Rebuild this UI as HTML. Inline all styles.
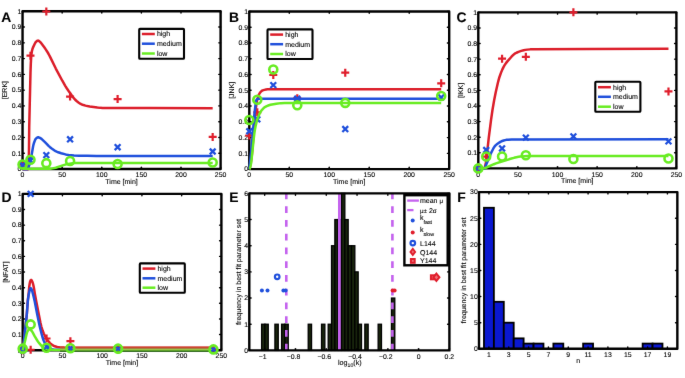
<!DOCTYPE html>
<html lang="en"><head><meta charset="utf-8"><title>Figure</title>
<style>
html,body{margin:0;padding:0;background:#fff;}
body{width:685px;height:378px;overflow:hidden;font-family:"Liberation Sans", sans-serif;}
svg{display:block;}
svg text{stroke:#000;stroke-width:0.1px;text-rendering:geometricPrecision;}
</style></head>
<body>
<svg width="685" height="378" viewBox="0 0 685 378" font-family='"Liberation Sans", sans-serif' fill="#000" stroke="#000" stroke-width="0">
<defs><filter id="soft" x="0" y="0" width="685" height="378" filterUnits="userSpaceOnUse" color-interpolation-filters="sRGB"><feConvolveMatrix order="3" kernelMatrix="0.0036 0.0528 0.0036 0.0528 0.7744 0.0528 0.0036 0.0528 0.0036" divisor="1" edgeMode="duplicate" preserveAlpha="true"/></filter></defs>
<rect width="685" height="378" fill="#fff"/>
<g filter="url(#soft)">
<rect width="685" height="378" fill="#fff" stroke="none"/>
<line x1="22.55" y1="169" x2="22.55" y2="167.2" stroke="#000" stroke-width="1.4" stroke-linecap="round"/>
<line x1="22.55" y1="11.3" x2="22.55" y2="13.1" stroke="#000" stroke-width="1.4" stroke-linecap="round"/>
<text transform="rotate(0.004)" x="22.55" y="177.2" font-size="6.9" text-anchor="middle">0</text>
<line x1="62.16" y1="169" x2="62.16" y2="167.2" stroke="#000" stroke-width="1.4" stroke-linecap="round"/>
<line x1="62.16" y1="11.3" x2="62.16" y2="13.1" stroke="#000" stroke-width="1.4" stroke-linecap="round"/>
<text transform="rotate(0.004)" x="62.16" y="177.2" font-size="6.9" text-anchor="middle">50</text>
<line x1="101.77" y1="169" x2="101.77" y2="167.2" stroke="#000" stroke-width="1.4" stroke-linecap="round"/>
<line x1="101.77" y1="11.3" x2="101.77" y2="13.1" stroke="#000" stroke-width="1.4" stroke-linecap="round"/>
<text transform="rotate(0.004)" x="101.77" y="177.2" font-size="6.9" text-anchor="middle">100</text>
<line x1="141.38" y1="169" x2="141.38" y2="167.2" stroke="#000" stroke-width="1.4" stroke-linecap="round"/>
<line x1="141.38" y1="11.3" x2="141.38" y2="13.1" stroke="#000" stroke-width="1.4" stroke-linecap="round"/>
<text transform="rotate(0.004)" x="141.38" y="177.2" font-size="6.9" text-anchor="middle">150</text>
<line x1="180.99" y1="169" x2="180.99" y2="167.2" stroke="#000" stroke-width="1.4" stroke-linecap="round"/>
<line x1="180.99" y1="11.3" x2="180.99" y2="13.1" stroke="#000" stroke-width="1.4" stroke-linecap="round"/>
<text transform="rotate(0.004)" x="180.99" y="177.2" font-size="6.9" text-anchor="middle">200</text>
<line x1="220.6" y1="169" x2="220.6" y2="167.2" stroke="#000" stroke-width="1.4" stroke-linecap="round"/>
<line x1="220.6" y1="11.3" x2="220.6" y2="13.1" stroke="#000" stroke-width="1.4" stroke-linecap="round"/>
<text transform="rotate(0.004)" x="220.6" y="177.2" font-size="6.9" text-anchor="middle">250</text>
<line x1="22.55" y1="169" x2="24.35" y2="169" stroke="#000" stroke-width="1.4" stroke-linecap="round"/>
<line x1="220.6" y1="169" x2="218.8" y2="169" stroke="#000" stroke-width="1.4" stroke-linecap="round"/>
<text transform="rotate(0.004)" x="21.35" y="171.3" font-size="6.9" text-anchor="end">0</text>
<line x1="22.55" y1="153.23" x2="24.35" y2="153.23" stroke="#000" stroke-width="1.4" stroke-linecap="round"/>
<line x1="220.6" y1="153.23" x2="218.8" y2="153.23" stroke="#000" stroke-width="1.4" stroke-linecap="round"/>
<text transform="rotate(0.004)" x="21.35" y="155.53" font-size="6.9" text-anchor="end">0.1</text>
<line x1="22.55" y1="137.46" x2="24.35" y2="137.46" stroke="#000" stroke-width="1.4" stroke-linecap="round"/>
<line x1="220.6" y1="137.46" x2="218.8" y2="137.46" stroke="#000" stroke-width="1.4" stroke-linecap="round"/>
<text transform="rotate(0.004)" x="21.35" y="139.76" font-size="6.9" text-anchor="end">0.2</text>
<line x1="22.55" y1="121.69" x2="24.35" y2="121.69" stroke="#000" stroke-width="1.4" stroke-linecap="round"/>
<line x1="220.6" y1="121.69" x2="218.8" y2="121.69" stroke="#000" stroke-width="1.4" stroke-linecap="round"/>
<text transform="rotate(0.004)" x="21.35" y="123.99" font-size="6.9" text-anchor="end">0.3</text>
<line x1="22.55" y1="105.92" x2="24.35" y2="105.92" stroke="#000" stroke-width="1.4" stroke-linecap="round"/>
<line x1="220.6" y1="105.92" x2="218.8" y2="105.92" stroke="#000" stroke-width="1.4" stroke-linecap="round"/>
<text transform="rotate(0.004)" x="21.35" y="108.22" font-size="6.9" text-anchor="end">0.4</text>
<line x1="22.55" y1="90.15" x2="24.35" y2="90.15" stroke="#000" stroke-width="1.4" stroke-linecap="round"/>
<line x1="220.6" y1="90.15" x2="218.8" y2="90.15" stroke="#000" stroke-width="1.4" stroke-linecap="round"/>
<text transform="rotate(0.004)" x="21.35" y="92.45" font-size="6.9" text-anchor="end">0.5</text>
<line x1="22.55" y1="74.38" x2="24.35" y2="74.38" stroke="#000" stroke-width="1.4" stroke-linecap="round"/>
<line x1="220.6" y1="74.38" x2="218.8" y2="74.38" stroke="#000" stroke-width="1.4" stroke-linecap="round"/>
<text transform="rotate(0.004)" x="21.35" y="76.68" font-size="6.9" text-anchor="end">0.6</text>
<line x1="22.55" y1="58.61" x2="24.35" y2="58.61" stroke="#000" stroke-width="1.4" stroke-linecap="round"/>
<line x1="220.6" y1="58.61" x2="218.8" y2="58.61" stroke="#000" stroke-width="1.4" stroke-linecap="round"/>
<text transform="rotate(0.004)" x="21.35" y="60.91" font-size="6.9" text-anchor="end">0.7</text>
<line x1="22.55" y1="42.84" x2="24.35" y2="42.84" stroke="#000" stroke-width="1.4" stroke-linecap="round"/>
<line x1="220.6" y1="42.84" x2="218.8" y2="42.84" stroke="#000" stroke-width="1.4" stroke-linecap="round"/>
<text transform="rotate(0.004)" x="21.35" y="45.14" font-size="6.9" text-anchor="end">0.8</text>
<line x1="22.55" y1="27.07" x2="24.35" y2="27.07" stroke="#000" stroke-width="1.4" stroke-linecap="round"/>
<line x1="220.6" y1="27.07" x2="218.8" y2="27.07" stroke="#000" stroke-width="1.4" stroke-linecap="round"/>
<text transform="rotate(0.004)" x="21.35" y="29.37" font-size="6.9" text-anchor="end">0.9</text>
<line x1="22.55" y1="11.3" x2="24.35" y2="11.3" stroke="#000" stroke-width="1.4" stroke-linecap="round"/>
<line x1="220.6" y1="11.3" x2="218.8" y2="11.3" stroke="#000" stroke-width="1.4" stroke-linecap="round"/>
<text transform="rotate(0.004)" x="21.35" y="13.6" font-size="6.9" text-anchor="end">1</text>
<rect x="22.55" y="11.3" width="198.05" height="157.7" fill="none" stroke="#000" stroke-width="2.4" stroke-linejoin="round"/>
<path d="M18.55,164.57H26.55M22.55,160.57V168.57" stroke="#e01e2c" stroke-width="2.2" fill="none"/>
<path d="M26.47,55.68H34.47M30.47,51.68V59.68" stroke="#e01e2c" stroke-width="2.2" fill="none"/>
<path d="M42.32,11.5H50.32M46.32,7.5V15.5" stroke="#e01e2c" stroke-width="2.2" fill="none"/>
<path d="M66.08,96.55H74.08M70.08,92.55V100.55" stroke="#e01e2c" stroke-width="2.2" fill="none"/>
<path d="M113.61,99.08H121.61M117.61,95.08V103.08" stroke="#e01e2c" stroke-width="2.2" fill="none"/>
<path d="M208.68,136.95H216.68M212.68,132.95V140.95" stroke="#e01e2c" stroke-width="2.2" fill="none"/>
<path d="M22.55,169.3 L28.1,169.3 L28.18,169.11 L28.27,168.6 L28.58,164.38 L28.82,158.44 L28.98,149.65 L29.22,127.34 L30.49,72.58 L30.8,63.91 L31.2,56.85 L31.52,53.7 L31.91,51.15 L32.39,49.24 L32.95,47.63 L34.77,43.76 L35.56,42.34 L35.96,41.85 L36.67,41.22 L37.15,40.87 L37.63,40.65 L38.18,40.62 L38.75,40.86 L40.09,41.89 L40.72,42.53 L44.47,47.56 L45.9,49.65 L47.23,51.73 L48.58,54.01 L49.85,56.34 L55.8,68.57 L62.31,80.72 L65.24,85.87 L66.75,88.25 L68.42,90.72 L73.06,97.15 L74.01,98.37 L74.97,99.46 L76.87,101.21 L78.78,102.72 L80.21,103.67 L81.16,104.18 L81.96,104.52 L83.54,105.07 L85.45,105.62 L87.36,106.08 L89.74,106.53 L97.36,107.6 L100.22,107.87 L102.6,107.98 L148.83,108.1 L212.68,108.14" fill="none" stroke="#dc1e2a" stroke-width="2.5" stroke-linejoin="round" stroke-linecap="butt"/>
<path d="M19.65,162.14L25.45,167.94M19.65,167.94L25.45,162.14" stroke="#2050dc" stroke-width="2.3" fill="none"/>
<path d="M27.57,157.72L33.37,163.52M27.57,163.52L33.37,157.72" stroke="#2050dc" stroke-width="2.3" fill="none"/>
<path d="M43.42,152.2L49.22,158M43.42,158L49.22,152.2" stroke="#2050dc" stroke-width="2.3" fill="none"/>
<path d="M67.18,136.42L72.98,142.22M67.18,142.22L72.98,136.42" stroke="#2050dc" stroke-width="2.3" fill="none"/>
<path d="M114.71,144.31L120.51,150.11M114.71,150.11L120.51,144.31" stroke="#2050dc" stroke-width="2.3" fill="none"/>
<path d="M209.78,148.57L215.58,154.37M209.78,154.37L215.58,148.57" stroke="#2050dc" stroke-width="2.3" fill="none"/>
<path d="M22.55,169.3 L27.32,169.3 L27.63,169.08 L27.95,168.53 L29.61,164.28 L30.49,161.36 L30.88,159.39 L33.03,146.7 L33.5,144.55 L34.06,142.73 L34.94,140.32 L35.33,139.51 L35.72,138.86 L36.2,138.37 L36.99,137.73 L37.55,137.42 L38.1,137.27 L38.66,137.31 L39.37,137.57 L40.88,138.44 L41.52,138.89 L44.95,142.07 L46.67,143.78 L48.82,146.05 L49.77,146.95 L51.35,148.19 L54.53,150.45 L55.64,151.17 L56.67,151.68 L58.18,152.31 L61.19,153.31 L65.56,154.4 L67.23,154.71 L68.73,154.92 L74.01,155.38 L79.25,155.66 L87.36,155.84 L96.41,155.95 L212.68,155.97" fill="none" stroke="#2050dc" stroke-width="2.5" stroke-linejoin="round" stroke-linecap="butt"/>
<circle cx="22.55" cy="164.57" r="4.0" stroke="#68ec22" stroke-width="2.6" fill="none"/>
<circle cx="30.47" cy="159.75" r="4.0" stroke="#68ec22" stroke-width="2.6" fill="none"/>
<circle cx="46.32" cy="163.15" r="4.0" stroke="#68ec22" stroke-width="2.6" fill="none"/>
<circle cx="70.08" cy="160.94" r="4.0" stroke="#68ec22" stroke-width="2.6" fill="none"/>
<circle cx="117.61" cy="163.93" r="4.0" stroke="#68ec22" stroke-width="2.6" fill="none"/>
<circle cx="212.68" cy="162.51" r="4.0" stroke="#68ec22" stroke-width="2.6" fill="none"/>
<path d="M22.55,168.83 L48.74,168.83 L50.24,168.74 L52.47,168.38 L55.72,167.69 L64.37,164.9 L66.51,164.32 L69.84,163.66 L72.58,163.24 L74.49,163.07 L212.68,163.07" fill="none" stroke="#68ec22" stroke-width="2.5" stroke-linejoin="round" stroke-linecap="butt"/>
<rect x="139.2" y="28.9" width="44.8" height="29.9" fill="#fff" stroke="#000" stroke-width="2.1" rx="0.8"/>
<line x1="141.9" y1="34" x2="154.8" y2="34" stroke="#dc1e2a" stroke-width="2.5"/>
<text transform="rotate(0.004)" x="156.9" y="36.3" font-size="7">high</text>
<line x1="141.9" y1="43.7" x2="154.8" y2="43.7" stroke="#2050dc" stroke-width="2.5"/>
<text transform="rotate(0.004)" x="156.9" y="46" font-size="7">medium</text>
<line x1="141.9" y1="53.5" x2="154.8" y2="53.5" stroke="#68ec22" stroke-width="2.5"/>
<text transform="rotate(0.004)" x="156.9" y="55.8" font-size="7">low</text>
<text transform="rotate(0.004)" x="121.58" y="183.8" font-size="7.0" text-anchor="middle">Time [min]</text>
<text transform="translate(7.3,90.15) rotate(-89.99)" font-size="7.0" text-anchor="middle">[ERK]</text>
<text transform="rotate(0.004)" x="1.2" y="21.8" font-size="13.9" font-weight="bold">A</text>
<line x1="249.3" y1="169.1" x2="249.3" y2="167.3" stroke="#000" stroke-width="1.4" stroke-linecap="round"/>
<line x1="249.3" y1="11.5" x2="249.3" y2="13.3" stroke="#000" stroke-width="1.4" stroke-linecap="round"/>
<text transform="rotate(0.004)" x="249.3" y="177.3" font-size="6.9" text-anchor="middle">0</text>
<line x1="289.28" y1="169.1" x2="289.28" y2="167.3" stroke="#000" stroke-width="1.4" stroke-linecap="round"/>
<line x1="289.28" y1="11.5" x2="289.28" y2="13.3" stroke="#000" stroke-width="1.4" stroke-linecap="round"/>
<text transform="rotate(0.004)" x="289.28" y="177.3" font-size="6.9" text-anchor="middle">50</text>
<line x1="329.26" y1="169.1" x2="329.26" y2="167.3" stroke="#000" stroke-width="1.4" stroke-linecap="round"/>
<line x1="329.26" y1="11.5" x2="329.26" y2="13.3" stroke="#000" stroke-width="1.4" stroke-linecap="round"/>
<text transform="rotate(0.004)" x="329.26" y="177.3" font-size="6.9" text-anchor="middle">100</text>
<line x1="369.24" y1="169.1" x2="369.24" y2="167.3" stroke="#000" stroke-width="1.4" stroke-linecap="round"/>
<line x1="369.24" y1="11.5" x2="369.24" y2="13.3" stroke="#000" stroke-width="1.4" stroke-linecap="round"/>
<text transform="rotate(0.004)" x="369.24" y="177.3" font-size="6.9" text-anchor="middle">150</text>
<line x1="409.22" y1="169.1" x2="409.22" y2="167.3" stroke="#000" stroke-width="1.4" stroke-linecap="round"/>
<line x1="409.22" y1="11.5" x2="409.22" y2="13.3" stroke="#000" stroke-width="1.4" stroke-linecap="round"/>
<text transform="rotate(0.004)" x="409.22" y="177.3" font-size="6.9" text-anchor="middle">200</text>
<line x1="449.2" y1="169.1" x2="449.2" y2="167.3" stroke="#000" stroke-width="1.4" stroke-linecap="round"/>
<line x1="449.2" y1="11.5" x2="449.2" y2="13.3" stroke="#000" stroke-width="1.4" stroke-linecap="round"/>
<text transform="rotate(0.004)" x="449.2" y="177.3" font-size="6.9" text-anchor="middle">250</text>
<line x1="249.3" y1="169.1" x2="251.1" y2="169.1" stroke="#000" stroke-width="1.4" stroke-linecap="round"/>
<line x1="449.2" y1="169.1" x2="447.4" y2="169.1" stroke="#000" stroke-width="1.4" stroke-linecap="round"/>
<text transform="rotate(0.004)" x="248.1" y="171.4" font-size="6.9" text-anchor="end">0</text>
<line x1="249.3" y1="153.34" x2="251.1" y2="153.34" stroke="#000" stroke-width="1.4" stroke-linecap="round"/>
<line x1="449.2" y1="153.34" x2="447.4" y2="153.34" stroke="#000" stroke-width="1.4" stroke-linecap="round"/>
<text transform="rotate(0.004)" x="248.1" y="155.64" font-size="6.9" text-anchor="end">0.1</text>
<line x1="249.3" y1="137.58" x2="251.1" y2="137.58" stroke="#000" stroke-width="1.4" stroke-linecap="round"/>
<line x1="449.2" y1="137.58" x2="447.4" y2="137.58" stroke="#000" stroke-width="1.4" stroke-linecap="round"/>
<text transform="rotate(0.004)" x="248.1" y="139.88" font-size="6.9" text-anchor="end">0.2</text>
<line x1="249.3" y1="121.82" x2="251.1" y2="121.82" stroke="#000" stroke-width="1.4" stroke-linecap="round"/>
<line x1="449.2" y1="121.82" x2="447.4" y2="121.82" stroke="#000" stroke-width="1.4" stroke-linecap="round"/>
<text transform="rotate(0.004)" x="248.1" y="124.12" font-size="6.9" text-anchor="end">0.3</text>
<line x1="249.3" y1="106.06" x2="251.1" y2="106.06" stroke="#000" stroke-width="1.4" stroke-linecap="round"/>
<line x1="449.2" y1="106.06" x2="447.4" y2="106.06" stroke="#000" stroke-width="1.4" stroke-linecap="round"/>
<text transform="rotate(0.004)" x="248.1" y="108.36" font-size="6.9" text-anchor="end">0.4</text>
<line x1="249.3" y1="90.3" x2="251.1" y2="90.3" stroke="#000" stroke-width="1.4" stroke-linecap="round"/>
<line x1="449.2" y1="90.3" x2="447.4" y2="90.3" stroke="#000" stroke-width="1.4" stroke-linecap="round"/>
<text transform="rotate(0.004)" x="248.1" y="92.6" font-size="6.9" text-anchor="end">0.5</text>
<line x1="249.3" y1="74.54" x2="251.1" y2="74.54" stroke="#000" stroke-width="1.4" stroke-linecap="round"/>
<line x1="449.2" y1="74.54" x2="447.4" y2="74.54" stroke="#000" stroke-width="1.4" stroke-linecap="round"/>
<text transform="rotate(0.004)" x="248.1" y="76.84" font-size="6.9" text-anchor="end">0.6</text>
<line x1="249.3" y1="58.78" x2="251.1" y2="58.78" stroke="#000" stroke-width="1.4" stroke-linecap="round"/>
<line x1="449.2" y1="58.78" x2="447.4" y2="58.78" stroke="#000" stroke-width="1.4" stroke-linecap="round"/>
<text transform="rotate(0.004)" x="248.1" y="61.08" font-size="6.9" text-anchor="end">0.7</text>
<line x1="249.3" y1="43.02" x2="251.1" y2="43.02" stroke="#000" stroke-width="1.4" stroke-linecap="round"/>
<line x1="449.2" y1="43.02" x2="447.4" y2="43.02" stroke="#000" stroke-width="1.4" stroke-linecap="round"/>
<text transform="rotate(0.004)" x="248.1" y="45.32" font-size="6.9" text-anchor="end">0.8</text>
<line x1="249.3" y1="27.26" x2="251.1" y2="27.26" stroke="#000" stroke-width="1.4" stroke-linecap="round"/>
<line x1="449.2" y1="27.26" x2="447.4" y2="27.26" stroke="#000" stroke-width="1.4" stroke-linecap="round"/>
<text transform="rotate(0.004)" x="248.1" y="29.56" font-size="6.9" text-anchor="end">0.9</text>
<line x1="249.3" y1="11.5" x2="251.1" y2="11.5" stroke="#000" stroke-width="1.4" stroke-linecap="round"/>
<line x1="449.2" y1="11.5" x2="447.4" y2="11.5" stroke="#000" stroke-width="1.4" stroke-linecap="round"/>
<text transform="rotate(0.004)" x="248.1" y="13.8" font-size="6.9" text-anchor="end">1</text>
<rect x="249.3" y="11.5" width="199.9" height="157.6" fill="none" stroke="#000" stroke-width="2.4" stroke-linejoin="round"/>
<path d="M245.3,135.53H253.3M249.3,131.53V139.53" stroke="#e01e2c" stroke-width="2.2" fill="none"/>
<path d="M253.3,112.36H261.3M257.3,108.36V116.36" stroke="#e01e2c" stroke-width="2.2" fill="none"/>
<path d="M269.29,75.01H277.29M273.29,71.01V79.01" stroke="#e01e2c" stroke-width="2.2" fill="none"/>
<path d="M293.28,98.18H301.28M297.28,94.18V102.18" stroke="#e01e2c" stroke-width="2.2" fill="none"/>
<path d="M341.25,72.65H349.25M345.25,68.65V76.65" stroke="#e01e2c" stroke-width="2.2" fill="none"/>
<path d="M437.2,83.37H445.2M441.2,79.37V87.37" stroke="#e01e2c" stroke-width="2.2" fill="none"/>
<path d="M249.3,169.1 L249.54,168.65 L249.86,167.67 L250.42,165.08 L251.06,161.09 L251.86,155.13 L252.34,149.87 L255.07,115.2 L255.63,109.76 L256.51,103.61 L257,101.04 L257.55,98.8 L258.35,96.12 L259.07,94.25 L259.63,93.23 L260.75,91.83 L261.71,90.94 L262.68,90.38 L264.36,89.88 L266.04,89.51 L267.64,89.28 L269.16,89.2 L441.2,89.2" fill="none" stroke="#dc1e2a" stroke-width="2.5" stroke-linejoin="round" stroke-linecap="butt"/>
<path d="M246.4,128.38L252.2,134.18M246.4,134.18L252.2,128.38" stroke="#2050dc" stroke-width="2.3" fill="none"/>
<path d="M254.4,116.4L260.2,122.2M254.4,122.2L260.2,116.4" stroke="#2050dc" stroke-width="2.3" fill="none"/>
<path d="M270.39,82.2L276.19,88M270.39,88L276.19,82.2" stroke="#2050dc" stroke-width="2.3" fill="none"/>
<path d="M294.38,95.75L300.18,101.55M294.38,101.55L300.18,95.75" stroke="#2050dc" stroke-width="2.3" fill="none"/>
<path d="M342.35,126.17L348.15,131.97M342.35,131.97L348.15,126.17" stroke="#2050dc" stroke-width="2.3" fill="none"/>
<path d="M438.3,94.49L444.1,100.29M438.3,100.29L444.1,94.49" stroke="#2050dc" stroke-width="2.3" fill="none"/>
<path d="M249.3,169.1 L250.34,159.64 L251.54,147.68 L252.5,137.04 L253.87,119.98 L254.59,112.67 L255.39,105.88 L255.87,102.2 L256.27,100.24 L256.42,99.91 L256.91,99.32 L257.31,98.96 L257.71,98.73 L258.1,98.65 L441.2,98.65" fill="none" stroke="#2050dc" stroke-width="2.5" stroke-linejoin="round" stroke-linecap="butt"/>
<circle cx="249.3" cy="119.93" r="4.0" stroke="#68ec22" stroke-width="2.6" fill="none"/>
<circle cx="257.3" cy="99.76" r="4.0" stroke="#68ec22" stroke-width="2.6" fill="none"/>
<circle cx="273.29" cy="69.5" r="4.0" stroke="#68ec22" stroke-width="2.6" fill="none"/>
<circle cx="297.28" cy="105.27" r="4.0" stroke="#68ec22" stroke-width="2.6" fill="none"/>
<circle cx="345.25" cy="102.91" r="4.0" stroke="#68ec22" stroke-width="2.6" fill="none"/>
<circle cx="441.2" cy="95.97" r="4.0" stroke="#68ec22" stroke-width="2.6" fill="none"/>
<path d="M249.3,169.1 L249.46,169.03 L249.62,168.83 L250.02,167.88 L250.5,166.1 L251.06,163.51 L251.54,159.66 L253.79,138.17 L254.51,132.2 L254.9,129.7 L255.71,125.6 L256.43,122.52 L257.23,119.64 L258.27,116.64 L259.55,113.71 L260.75,111.56 L262.03,109.84 L263.48,108.23 L264.2,107.59 L264.84,107.12 L266.76,106.13 L268.92,105.27 L270.44,104.8 L271.97,104.42 L276.29,103.69 L280.86,103.13 L284.7,102.91 L441.2,102.91" fill="none" stroke="#68ec22" stroke-width="2.5" stroke-linejoin="round" stroke-linecap="butt"/>
<rect x="267.5" y="29.4" width="45" height="29.6" fill="#fff" stroke="#000" stroke-width="2.1" rx="0.8"/>
<line x1="270.2" y1="34.6" x2="283.1" y2="34.6" stroke="#dc1e2a" stroke-width="2.5"/>
<text transform="rotate(0.004)" x="285.2" y="36.9" font-size="7">high</text>
<line x1="270.2" y1="44.2" x2="283.1" y2="44.2" stroke="#2050dc" stroke-width="2.5"/>
<text transform="rotate(0.004)" x="285.2" y="46.5" font-size="7">medium</text>
<line x1="270.2" y1="54" x2="283.1" y2="54" stroke="#68ec22" stroke-width="2.5"/>
<text transform="rotate(0.004)" x="285.2" y="56.3" font-size="7">low</text>
<text transform="rotate(0.004)" x="349.25" y="183.9" font-size="7.0" text-anchor="middle">Time [min]</text>
<text transform="translate(234,90.3) rotate(-89.99)" font-size="7.0" text-anchor="middle">[JNK]</text>
<text transform="rotate(0.004)" x="229.1" y="21.8" font-size="13.9" font-weight="bold">B</text>
<line x1="478.3" y1="168.4" x2="478.3" y2="166.6" stroke="#000" stroke-width="1.4" stroke-linecap="round"/>
<line x1="478.3" y1="12.35" x2="478.3" y2="14.15" stroke="#000" stroke-width="1.4" stroke-linecap="round"/>
<text transform="rotate(0.004)" x="478.3" y="176.6" font-size="6.9" text-anchor="middle">0</text>
<line x1="517.92" y1="168.4" x2="517.92" y2="166.6" stroke="#000" stroke-width="1.4" stroke-linecap="round"/>
<line x1="517.92" y1="12.35" x2="517.92" y2="14.15" stroke="#000" stroke-width="1.4" stroke-linecap="round"/>
<text transform="rotate(0.004)" x="517.92" y="176.6" font-size="6.9" text-anchor="middle">50</text>
<line x1="557.54" y1="168.4" x2="557.54" y2="166.6" stroke="#000" stroke-width="1.4" stroke-linecap="round"/>
<line x1="557.54" y1="12.35" x2="557.54" y2="14.15" stroke="#000" stroke-width="1.4" stroke-linecap="round"/>
<text transform="rotate(0.004)" x="557.54" y="176.6" font-size="6.9" text-anchor="middle">100</text>
<line x1="597.16" y1="168.4" x2="597.16" y2="166.6" stroke="#000" stroke-width="1.4" stroke-linecap="round"/>
<line x1="597.16" y1="12.35" x2="597.16" y2="14.15" stroke="#000" stroke-width="1.4" stroke-linecap="round"/>
<text transform="rotate(0.004)" x="597.16" y="176.6" font-size="6.9" text-anchor="middle">150</text>
<line x1="636.78" y1="168.4" x2="636.78" y2="166.6" stroke="#000" stroke-width="1.4" stroke-linecap="round"/>
<line x1="636.78" y1="12.35" x2="636.78" y2="14.15" stroke="#000" stroke-width="1.4" stroke-linecap="round"/>
<text transform="rotate(0.004)" x="636.78" y="176.6" font-size="6.9" text-anchor="middle">200</text>
<line x1="676.4" y1="168.4" x2="676.4" y2="166.6" stroke="#000" stroke-width="1.4" stroke-linecap="round"/>
<line x1="676.4" y1="12.35" x2="676.4" y2="14.15" stroke="#000" stroke-width="1.4" stroke-linecap="round"/>
<text transform="rotate(0.004)" x="676.4" y="176.6" font-size="6.9" text-anchor="middle">250</text>
<line x1="478.3" y1="168.4" x2="480.1" y2="168.4" stroke="#000" stroke-width="1.4" stroke-linecap="round"/>
<line x1="676.4" y1="168.4" x2="674.6" y2="168.4" stroke="#000" stroke-width="1.4" stroke-linecap="round"/>
<text transform="rotate(0.004)" x="477.1" y="170.7" font-size="6.9" text-anchor="end">0</text>
<line x1="478.3" y1="152.8" x2="480.1" y2="152.8" stroke="#000" stroke-width="1.4" stroke-linecap="round"/>
<line x1="676.4" y1="152.8" x2="674.6" y2="152.8" stroke="#000" stroke-width="1.4" stroke-linecap="round"/>
<text transform="rotate(0.004)" x="477.1" y="155.1" font-size="6.9" text-anchor="end">0.1</text>
<line x1="478.3" y1="137.19" x2="480.1" y2="137.19" stroke="#000" stroke-width="1.4" stroke-linecap="round"/>
<line x1="676.4" y1="137.19" x2="674.6" y2="137.19" stroke="#000" stroke-width="1.4" stroke-linecap="round"/>
<text transform="rotate(0.004)" x="477.1" y="139.49" font-size="6.9" text-anchor="end">0.2</text>
<line x1="478.3" y1="121.59" x2="480.1" y2="121.59" stroke="#000" stroke-width="1.4" stroke-linecap="round"/>
<line x1="676.4" y1="121.59" x2="674.6" y2="121.59" stroke="#000" stroke-width="1.4" stroke-linecap="round"/>
<text transform="rotate(0.004)" x="477.1" y="123.89" font-size="6.9" text-anchor="end">0.3</text>
<line x1="478.3" y1="105.98" x2="480.1" y2="105.98" stroke="#000" stroke-width="1.4" stroke-linecap="round"/>
<line x1="676.4" y1="105.98" x2="674.6" y2="105.98" stroke="#000" stroke-width="1.4" stroke-linecap="round"/>
<text transform="rotate(0.004)" x="477.1" y="108.28" font-size="6.9" text-anchor="end">0.4</text>
<line x1="478.3" y1="90.38" x2="480.1" y2="90.38" stroke="#000" stroke-width="1.4" stroke-linecap="round"/>
<line x1="676.4" y1="90.38" x2="674.6" y2="90.38" stroke="#000" stroke-width="1.4" stroke-linecap="round"/>
<text transform="rotate(0.004)" x="477.1" y="92.67" font-size="6.9" text-anchor="end">0.5</text>
<line x1="478.3" y1="74.77" x2="480.1" y2="74.77" stroke="#000" stroke-width="1.4" stroke-linecap="round"/>
<line x1="676.4" y1="74.77" x2="674.6" y2="74.77" stroke="#000" stroke-width="1.4" stroke-linecap="round"/>
<text transform="rotate(0.004)" x="477.1" y="77.07" font-size="6.9" text-anchor="end">0.6</text>
<line x1="478.3" y1="59.17" x2="480.1" y2="59.17" stroke="#000" stroke-width="1.4" stroke-linecap="round"/>
<line x1="676.4" y1="59.17" x2="674.6" y2="59.17" stroke="#000" stroke-width="1.4" stroke-linecap="round"/>
<text transform="rotate(0.004)" x="477.1" y="61.47" font-size="6.9" text-anchor="end">0.7</text>
<line x1="478.3" y1="43.56" x2="480.1" y2="43.56" stroke="#000" stroke-width="1.4" stroke-linecap="round"/>
<line x1="676.4" y1="43.56" x2="674.6" y2="43.56" stroke="#000" stroke-width="1.4" stroke-linecap="round"/>
<text transform="rotate(0.004)" x="477.1" y="45.86" font-size="6.9" text-anchor="end">0.8</text>
<line x1="478.3" y1="27.95" x2="480.1" y2="27.95" stroke="#000" stroke-width="1.4" stroke-linecap="round"/>
<line x1="676.4" y1="27.95" x2="674.6" y2="27.95" stroke="#000" stroke-width="1.4" stroke-linecap="round"/>
<text transform="rotate(0.004)" x="477.1" y="30.25" font-size="6.9" text-anchor="end">0.9</text>
<line x1="478.3" y1="12.35" x2="480.1" y2="12.35" stroke="#000" stroke-width="1.4" stroke-linecap="round"/>
<line x1="676.4" y1="12.35" x2="674.6" y2="12.35" stroke="#000" stroke-width="1.4" stroke-linecap="round"/>
<text transform="rotate(0.004)" x="477.1" y="14.65" font-size="6.9" text-anchor="end">1</text>
<rect x="478.3" y="12.35" width="198.1" height="156.05" fill="none" stroke="#000" stroke-width="2.4" stroke-linejoin="round"/>
<path d="M474.3,168.4H482.3M478.3,164.4V172.4" stroke="#e01e2c" stroke-width="2.2" fill="none"/>
<path d="M482.22,156.54H490.22M486.22,152.54V160.54" stroke="#e01e2c" stroke-width="2.2" fill="none"/>
<path d="M498.07,58.7H506.07M502.07,54.7V62.7" stroke="#e01e2c" stroke-width="2.2" fill="none"/>
<path d="M521.84,56.82H529.84M525.84,52.82V60.82" stroke="#e01e2c" stroke-width="2.2" fill="none"/>
<path d="M569.39,12.35H577.39M573.39,8.35V16.35" stroke="#e01e2c" stroke-width="2.2" fill="none"/>
<path d="M664.48,91.47H672.48M668.48,87.47V95.47" stroke="#e01e2c" stroke-width="2.2" fill="none"/>
<path d="M478.3,168.4 L484.25,168.37 L484.49,168.07 L484.73,167.49 L485.28,165.4 L485.93,162.44 L486.48,158.73 L488.78,137.68 L491.08,119.6 L492.51,109.73 L494.1,100.48 L495.68,92.43 L497.83,83.03 L498.7,79.66 L499.49,76.96 L500.84,73.13 L502.27,69.64 L503.62,66.86 L505.05,64.46 L506.16,62.88 L507.35,61.37 L511.48,56.73 L513.3,54.84 L514.05,54.2 L514.73,53.71 L516.48,52.74 L518.46,51.86 L521.24,50.9 L523.7,50.2 L525.29,49.88 L527.39,49.63 L530.25,49.37 L533.11,49.21 L589.83,48.94 L668.48,48.87" fill="none" stroke="#dc1e2a" stroke-width="2.5" stroke-linejoin="round" stroke-linecap="butt"/>
<path d="M475.4,165.5L481.2,171.3M475.4,171.3L481.2,165.5" stroke="#2050dc" stroke-width="2.3" fill="none"/>
<path d="M483.32,147.09L489.12,152.89M483.32,152.89L489.12,147.09" stroke="#2050dc" stroke-width="2.3" fill="none"/>
<path d="M499.17,145.53L504.97,151.33M499.17,151.33L504.97,145.53" stroke="#2050dc" stroke-width="2.3" fill="none"/>
<path d="M522.94,134.76L528.74,140.56M522.94,140.56L528.74,134.76" stroke="#2050dc" stroke-width="2.3" fill="none"/>
<path d="M570.49,133.51L576.29,139.31M570.49,139.31L576.29,133.51" stroke="#2050dc" stroke-width="2.3" fill="none"/>
<path d="M665.58,138.5L671.38,144.3M665.58,144.3L671.38,138.5" stroke="#2050dc" stroke-width="2.3" fill="none"/>
<path d="M478.3,168.4 L484.64,168.4 L484.81,168.29 L485.13,167.65 L485.91,165.28 L488.62,159 L491,153.13 L493.22,148.69 L494.02,147.34 L494.73,146.3 L495.52,145.42 L496.48,144.6 L499.65,142.33 L500.76,141.64 L501.56,141.26 L503.7,140.52 L505.21,140.11 L506.64,139.82 L508.14,139.67 L511.64,139.51 L521,139.38 L668.48,139.37" fill="none" stroke="#2050dc" stroke-width="2.5" stroke-linejoin="round" stroke-linecap="butt"/>
<circle cx="478.3" cy="168.4" r="4.0" stroke="#68ec22" stroke-width="2.6" fill="none"/>
<circle cx="486.22" cy="156.54" r="4.0" stroke="#68ec22" stroke-width="2.6" fill="none"/>
<circle cx="502.07" cy="156.54" r="4.0" stroke="#68ec22" stroke-width="2.6" fill="none"/>
<circle cx="525.84" cy="155.29" r="4.0" stroke="#68ec22" stroke-width="2.6" fill="none"/>
<circle cx="573.39" cy="159.04" r="4.0" stroke="#68ec22" stroke-width="2.6" fill="none"/>
<circle cx="668.48" cy="158.57" r="4.0" stroke="#68ec22" stroke-width="2.6" fill="none"/>
<path d="M478.3,168.4 L483.7,168.24 L484.97,168.03 L486.48,167.5 L493.94,164.22 L496,163.42 L502.59,161.27 L511.4,158.57 L514.05,157.84 L518.62,156.82 L520.45,156.56 L524.34,156.23 L527.39,156.12 L668.48,156.12" fill="none" stroke="#68ec22" stroke-width="2.5" stroke-linejoin="round" stroke-linecap="butt"/>
<rect x="595.3" y="81.7" width="45.1" height="30" fill="#fff" stroke="#000" stroke-width="2.1" rx="0.8"/>
<line x1="598" y1="87.2" x2="610.9" y2="87.2" stroke="#dc1e2a" stroke-width="2.5"/>
<text transform="rotate(0.004)" x="613" y="89.5" font-size="7">high</text>
<line x1="598" y1="96.8" x2="610.9" y2="96.8" stroke="#2050dc" stroke-width="2.5"/>
<text transform="rotate(0.004)" x="613" y="99.1" font-size="7">medium</text>
<line x1="598" y1="106.7" x2="610.9" y2="106.7" stroke="#68ec22" stroke-width="2.5"/>
<text transform="rotate(0.004)" x="613" y="109" font-size="7">low</text>
<text transform="rotate(0.004)" x="577.35" y="183.2" font-size="7.0" text-anchor="middle">Time [min]</text>
<text transform="translate(462.8,90.38) rotate(-89.99)" font-size="7.0" text-anchor="middle">[IKK]</text>
<text transform="rotate(0.004)" x="456.6" y="21.8" font-size="13.9" font-weight="bold">C</text>
<line x1="22.7" y1="350.2" x2="22.7" y2="348.4" stroke="#000" stroke-width="1.4" stroke-linecap="round"/>
<line x1="22.7" y1="193.9" x2="22.7" y2="195.7" stroke="#000" stroke-width="1.4" stroke-linecap="round"/>
<text transform="rotate(0.004)" x="22.7" y="358.4" font-size="6.9" text-anchor="middle">0</text>
<line x1="62.44" y1="350.2" x2="62.44" y2="348.4" stroke="#000" stroke-width="1.4" stroke-linecap="round"/>
<line x1="62.44" y1="193.9" x2="62.44" y2="195.7" stroke="#000" stroke-width="1.4" stroke-linecap="round"/>
<text transform="rotate(0.004)" x="62.44" y="358.4" font-size="6.9" text-anchor="middle">50</text>
<line x1="102.18" y1="350.2" x2="102.18" y2="348.4" stroke="#000" stroke-width="1.4" stroke-linecap="round"/>
<line x1="102.18" y1="193.9" x2="102.18" y2="195.7" stroke="#000" stroke-width="1.4" stroke-linecap="round"/>
<text transform="rotate(0.004)" x="102.18" y="358.4" font-size="6.9" text-anchor="middle">100</text>
<line x1="141.92" y1="350.2" x2="141.92" y2="348.4" stroke="#000" stroke-width="1.4" stroke-linecap="round"/>
<line x1="141.92" y1="193.9" x2="141.92" y2="195.7" stroke="#000" stroke-width="1.4" stroke-linecap="round"/>
<text transform="rotate(0.004)" x="141.92" y="358.4" font-size="6.9" text-anchor="middle">150</text>
<line x1="181.66" y1="350.2" x2="181.66" y2="348.4" stroke="#000" stroke-width="1.4" stroke-linecap="round"/>
<line x1="181.66" y1="193.9" x2="181.66" y2="195.7" stroke="#000" stroke-width="1.4" stroke-linecap="round"/>
<text transform="rotate(0.004)" x="181.66" y="358.4" font-size="6.9" text-anchor="middle">200</text>
<line x1="221.4" y1="350.2" x2="221.4" y2="348.4" stroke="#000" stroke-width="1.4" stroke-linecap="round"/>
<line x1="221.4" y1="193.9" x2="221.4" y2="195.7" stroke="#000" stroke-width="1.4" stroke-linecap="round"/>
<text transform="rotate(0.004)" x="221.4" y="358.4" font-size="6.9" text-anchor="middle">250</text>
<line x1="22.7" y1="350.2" x2="24.5" y2="350.2" stroke="#000" stroke-width="1.4" stroke-linecap="round"/>
<line x1="221.4" y1="350.2" x2="219.6" y2="350.2" stroke="#000" stroke-width="1.4" stroke-linecap="round"/>
<text transform="rotate(0.004)" x="21.5" y="352.5" font-size="6.9" text-anchor="end">0</text>
<line x1="22.7" y1="334.57" x2="24.5" y2="334.57" stroke="#000" stroke-width="1.4" stroke-linecap="round"/>
<line x1="221.4" y1="334.57" x2="219.6" y2="334.57" stroke="#000" stroke-width="1.4" stroke-linecap="round"/>
<text transform="rotate(0.004)" x="21.5" y="336.87" font-size="6.9" text-anchor="end">0.1</text>
<line x1="22.7" y1="318.94" x2="24.5" y2="318.94" stroke="#000" stroke-width="1.4" stroke-linecap="round"/>
<line x1="221.4" y1="318.94" x2="219.6" y2="318.94" stroke="#000" stroke-width="1.4" stroke-linecap="round"/>
<text transform="rotate(0.004)" x="21.5" y="321.24" font-size="6.9" text-anchor="end">0.2</text>
<line x1="22.7" y1="303.31" x2="24.5" y2="303.31" stroke="#000" stroke-width="1.4" stroke-linecap="round"/>
<line x1="221.4" y1="303.31" x2="219.6" y2="303.31" stroke="#000" stroke-width="1.4" stroke-linecap="round"/>
<text transform="rotate(0.004)" x="21.5" y="305.61" font-size="6.9" text-anchor="end">0.3</text>
<line x1="22.7" y1="287.68" x2="24.5" y2="287.68" stroke="#000" stroke-width="1.4" stroke-linecap="round"/>
<line x1="221.4" y1="287.68" x2="219.6" y2="287.68" stroke="#000" stroke-width="1.4" stroke-linecap="round"/>
<text transform="rotate(0.004)" x="21.5" y="289.98" font-size="6.9" text-anchor="end">0.4</text>
<line x1="22.7" y1="272.05" x2="24.5" y2="272.05" stroke="#000" stroke-width="1.4" stroke-linecap="round"/>
<line x1="221.4" y1="272.05" x2="219.6" y2="272.05" stroke="#000" stroke-width="1.4" stroke-linecap="round"/>
<text transform="rotate(0.004)" x="21.5" y="274.35" font-size="6.9" text-anchor="end">0.5</text>
<line x1="22.7" y1="256.42" x2="24.5" y2="256.42" stroke="#000" stroke-width="1.4" stroke-linecap="round"/>
<line x1="221.4" y1="256.42" x2="219.6" y2="256.42" stroke="#000" stroke-width="1.4" stroke-linecap="round"/>
<text transform="rotate(0.004)" x="21.5" y="258.72" font-size="6.9" text-anchor="end">0.6</text>
<line x1="22.7" y1="240.79" x2="24.5" y2="240.79" stroke="#000" stroke-width="1.4" stroke-linecap="round"/>
<line x1="221.4" y1="240.79" x2="219.6" y2="240.79" stroke="#000" stroke-width="1.4" stroke-linecap="round"/>
<text transform="rotate(0.004)" x="21.5" y="243.09" font-size="6.9" text-anchor="end">0.7</text>
<line x1="22.7" y1="225.16" x2="24.5" y2="225.16" stroke="#000" stroke-width="1.4" stroke-linecap="round"/>
<line x1="221.4" y1="225.16" x2="219.6" y2="225.16" stroke="#000" stroke-width="1.4" stroke-linecap="round"/>
<text transform="rotate(0.004)" x="21.5" y="227.46" font-size="6.9" text-anchor="end">0.8</text>
<line x1="22.7" y1="209.53" x2="24.5" y2="209.53" stroke="#000" stroke-width="1.4" stroke-linecap="round"/>
<line x1="221.4" y1="209.53" x2="219.6" y2="209.53" stroke="#000" stroke-width="1.4" stroke-linecap="round"/>
<text transform="rotate(0.004)" x="21.5" y="211.83" font-size="6.9" text-anchor="end">0.9</text>
<line x1="22.7" y1="193.9" x2="24.5" y2="193.9" stroke="#000" stroke-width="1.4" stroke-linecap="round"/>
<line x1="221.4" y1="193.9" x2="219.6" y2="193.9" stroke="#000" stroke-width="1.4" stroke-linecap="round"/>
<text transform="rotate(0.004)" x="21.5" y="196.2" font-size="6.9" text-anchor="end">1</text>
<rect x="22.7" y="193.9" width="198.7" height="156.3" fill="none" stroke="#000" stroke-width="2.4" stroke-linejoin="round"/>
<path d="M18.7,350.2H26.7M22.7,346.2V354.2" stroke="#e01e2c" stroke-width="2.2" fill="none"/>
<path d="M26.65,349.73H34.65M30.65,345.73V353.73" stroke="#e01e2c" stroke-width="2.2" fill="none"/>
<path d="M42.54,338.48H50.54M46.54,334.48V342.48" stroke="#e01e2c" stroke-width="2.2" fill="none"/>
<path d="M66.39,341.13H74.39M70.39,337.13V345.13" stroke="#e01e2c" stroke-width="2.2" fill="none"/>
<path d="M114.08,349.42H122.08M118.08,345.42V353.42" stroke="#e01e2c" stroke-width="2.2" fill="none"/>
<path d="M209.45,349.73H217.45M213.45,345.73V353.73" stroke="#e01e2c" stroke-width="2.2" fill="none"/>
<path d="M22.7,350.2 L23.89,340.81 L25.17,329.14 L26.44,318.2 L26.84,313.82 L27.8,300.3 L28.66,293.31 L29.22,286.98 L29.63,283.98 L30.02,281.89 L30.26,281.2 L30.66,280.35 L30.9,280.02 L31.12,279.91 L31.38,280.02 L31.62,280.3 L32.41,281.82 L32.89,283.3 L33.37,285.25 L33.93,287.89 L34.88,293.89 L36.31,301.81 L40.39,322.52 L41.25,326.3 L42.6,330.57 L43.74,333.44 L44.99,336.03 L46.42,338.45 L48.02,340.67 L49.77,342.81 L51.04,344.05 L53.03,345.42 L53.91,345.9 L54.78,346.28 L57.25,346.97 L59.48,347.34 L64.1,347.58 L68.95,347.69 L213.45,347.7" fill="none" stroke="#dc1e2a" stroke-width="2.5" stroke-linejoin="round" stroke-linecap="butt"/>
<path d="M19.8,347.3L25.6,353.1M19.8,353.1L25.6,347.3" stroke="#2050dc" stroke-width="2.3" fill="none"/>
<path d="M27.75,191L33.55,196.8M27.75,196.8L33.55,191" stroke="#2050dc" stroke-width="2.3" fill="none"/>
<path d="M22.7,350.2 L23.26,346.56 L23.89,341.59 L25.17,328.75 L26.52,317.28 L26.92,312.97 L27.72,302.29 L28.03,299.16 L28.67,294.85 L29.55,290.72 L30.1,288.72 L30.34,288.27 L30.53,288.15 L30.82,288.26 L31.14,288.61 L31.54,289.26 L32.01,290.25 L33.77,297.11 L34.8,301.71 L37.19,314.36 L39.34,324.6 L40.21,328.4 L41.49,333.44 L42.3,336.48 L43,338.8 L43.64,340.53 L44.35,342.08 L45.17,343.59 L46.03,344.88 L47.14,346.15 L48.41,347.36 L49.47,348.14 L50.48,348.63 L52.08,349.11 L53.51,349.45 L54.78,349.66 L55.98,349.73 L213.45,349.73" fill="none" stroke="#2050dc" stroke-width="2.5" stroke-linejoin="round" stroke-linecap="butt"/>
<path d="M22.7,350.2 L25.17,340.49 L26.44,334.77 L27,332.63 L27.4,331.58 L28.35,329.98 L28.91,329.33 L29.23,329.14 L29.46,329.1 L29.87,329.2 L30.35,329.53 L31.86,331.17 L32.65,332.45 L34.48,335.9 L37.43,340.74 L38.3,342 L39.42,343.42 L41.49,345.82 L42.3,346.6 L43.08,347.2 L44.35,347.97 L45.55,348.59 L46.5,349 L47.38,349.27 L49.37,349.57 L52,349.8 L54.39,349.89 L213.45,349.89" fill="none" stroke="#68ec22" stroke-width="2.5" stroke-linejoin="round" stroke-linecap="butt"/>
<rect x="60.06" y="346.7" width="153.4" height="2.0" fill="#c8482c"/>
<rect x="60.06" y="348.6" width="153.4" height="2.1" fill="#9cc84a"/>
<rect x="60.06" y="350.6" width="153.4" height="1.1" fill="#1c5c0c"/>
<path d="M44.54,345.07L48.54,349.07M44.54,349.07L48.54,345.07" stroke="#2050dc" stroke-width="2.0" fill="none"/>
<path d="M68.39,346.32L72.39,350.32M68.39,350.32L72.39,346.32" stroke="#2050dc" stroke-width="2.0" fill="none"/>
<path d="M116.08,346.64L120.08,350.64M116.08,350.64L120.08,346.64" stroke="#2050dc" stroke-width="2.0" fill="none"/>
<path d="M211.45,347.42L215.45,351.42M211.45,351.42L215.45,347.42" stroke="#2050dc" stroke-width="2.0" fill="none"/>
<circle cx="22.7" cy="348.64" r="4.0" stroke="#68ec22" stroke-width="2.6" fill="none"/>
<circle cx="30.65" cy="324.41" r="4.0" stroke="#68ec22" stroke-width="2.6" fill="none"/>
<circle cx="46.54" cy="347.7" r="4.0" stroke="#68ec22" stroke-width="2.6" fill="none"/>
<circle cx="70.39" cy="348.32" r="4.0" stroke="#68ec22" stroke-width="2.6" fill="none"/>
<circle cx="118.08" cy="348.64" r="4.0" stroke="#68ec22" stroke-width="2.6" fill="none"/>
<circle cx="213.45" cy="349.42" r="4.0" stroke="#68ec22" stroke-width="2.6" fill="none"/>
<rect x="139.8" y="263.4" width="45" height="29.4" fill="#fff" stroke="#000" stroke-width="2.1" rx="0.8"/>
<line x1="142.5" y1="268.6" x2="155.4" y2="268.6" stroke="#dc1e2a" stroke-width="2.5"/>
<text transform="rotate(0.004)" x="157.5" y="270.9" font-size="7">high</text>
<line x1="142.5" y1="278.3" x2="155.4" y2="278.3" stroke="#2050dc" stroke-width="2.5"/>
<text transform="rotate(0.004)" x="157.5" y="280.6" font-size="7">medium</text>
<line x1="142.5" y1="287.7" x2="155.4" y2="287.7" stroke="#68ec22" stroke-width="2.5"/>
<text transform="rotate(0.004)" x="157.5" y="290" font-size="7">low</text>
<text transform="rotate(0.004)" x="122.05" y="365" font-size="7.0" text-anchor="middle">Time [min]</text>
<text transform="translate(7.8,272.05) rotate(-89.99)" font-size="7.0" text-anchor="middle">[NFAT]</text>
<text transform="rotate(0.004)" x="1.4" y="202" font-size="13.9" font-weight="bold">D</text>
<rect x="261.6" y="324.23" width="3.33" height="26.17" fill="#18240c" stroke="#000" stroke-width="1.3"/>
<rect x="264.93" y="324.23" width="3.33" height="26.17" fill="#18240c" stroke="#000" stroke-width="1.3"/>
<rect x="274.92" y="324.23" width="3.33" height="26.17" fill="#18240c" stroke="#000" stroke-width="1.3"/>
<rect x="281.58" y="324.23" width="3.33" height="26.17" fill="#18240c" stroke="#000" stroke-width="1.3"/>
<rect x="284.91" y="324.23" width="3.33" height="26.17" fill="#18240c" stroke="#000" stroke-width="1.3"/>
<rect x="308.22" y="324.23" width="3.33" height="26.17" fill="#18240c" stroke="#000" stroke-width="1.3"/>
<rect x="321.54" y="324.23" width="3.33" height="26.17" fill="#18240c" stroke="#000" stroke-width="1.3"/>
<rect x="328.2" y="324.23" width="3.33" height="26.17" fill="#18240c" stroke="#000" stroke-width="1.3"/>
<rect x="331.53" y="245.73" width="3.33" height="104.67" fill="#18240c" stroke="#000" stroke-width="1.3"/>
<rect x="334.86" y="219.57" width="3.33" height="130.83" fill="#18240c" stroke="#000" stroke-width="1.3"/>
<rect x="338.19" y="219.57" width="3.33" height="130.83" fill="#18240c" stroke="#000" stroke-width="1.3"/>
<rect x="341.52" y="193.4" width="3.33" height="157" fill="#18240c" stroke="#000" stroke-width="1.3"/>
<rect x="344.85" y="219.57" width="3.33" height="130.83" fill="#18240c" stroke="#000" stroke-width="1.3"/>
<rect x="348.18" y="245.73" width="3.33" height="104.67" fill="#18240c" stroke="#000" stroke-width="1.3"/>
<rect x="351.51" y="245.73" width="3.33" height="104.67" fill="#18240c" stroke="#000" stroke-width="1.3"/>
<rect x="354.84" y="271.9" width="3.33" height="78.5" fill="#18240c" stroke="#000" stroke-width="1.3"/>
<rect x="358.17" y="324.23" width="3.33" height="26.17" fill="#18240c" stroke="#000" stroke-width="1.3"/>
<rect x="364.83" y="324.23" width="3.33" height="26.17" fill="#18240c" stroke="#000" stroke-width="1.3"/>
<rect x="378.15" y="324.23" width="3.33" height="26.17" fill="#18240c" stroke="#000" stroke-width="1.3"/>
<rect x="391.47" y="298.07" width="3.33" height="52.33" fill="#18240c" stroke="#000" stroke-width="1.3"/>
<line x1="339.4" y1="350.4" x2="339.4" y2="193.4" stroke="#c462ee" stroke-width="2.8"/>
<line x1="286.3" y1="350.4" x2="286.3" y2="193.4" stroke="#c462ee" stroke-width="2.6" stroke-dasharray="6.6 7.15"/>
<line x1="392.4" y1="350.4" x2="392.4" y2="193.4" stroke="#c462ee" stroke-width="2.6" stroke-dasharray="6.6 7.15"/>
<line x1="264.69" y1="350.4" x2="264.69" y2="348.6" stroke="#000" stroke-width="1.4" stroke-linecap="round"/>
<line x1="264.69" y1="193.4" x2="264.69" y2="195.2" stroke="#000" stroke-width="1.4" stroke-linecap="round"/>
<text transform="rotate(0.004)" x="262.69" y="358.8" font-size="6.9" text-anchor="middle">−1</text>
<line x1="295.48" y1="350.4" x2="295.48" y2="348.6" stroke="#000" stroke-width="1.4" stroke-linecap="round"/>
<line x1="295.48" y1="193.4" x2="295.48" y2="195.2" stroke="#000" stroke-width="1.4" stroke-linecap="round"/>
<text transform="rotate(0.004)" x="293.48" y="358.8" font-size="6.9" text-anchor="middle">−0.8</text>
<line x1="326.26" y1="350.4" x2="326.26" y2="348.6" stroke="#000" stroke-width="1.4" stroke-linecap="round"/>
<line x1="326.26" y1="193.4" x2="326.26" y2="195.2" stroke="#000" stroke-width="1.4" stroke-linecap="round"/>
<text transform="rotate(0.004)" x="324.26" y="358.8" font-size="6.9" text-anchor="middle">−0.6</text>
<line x1="357.05" y1="350.4" x2="357.05" y2="348.6" stroke="#000" stroke-width="1.4" stroke-linecap="round"/>
<line x1="357.05" y1="193.4" x2="357.05" y2="195.2" stroke="#000" stroke-width="1.4" stroke-linecap="round"/>
<text transform="rotate(0.004)" x="355.05" y="358.8" font-size="6.9" text-anchor="middle">−0.4</text>
<line x1="387.83" y1="350.4" x2="387.83" y2="348.6" stroke="#000" stroke-width="1.4" stroke-linecap="round"/>
<line x1="387.83" y1="193.4" x2="387.83" y2="195.2" stroke="#000" stroke-width="1.4" stroke-linecap="round"/>
<text transform="rotate(0.004)" x="385.83" y="358.8" font-size="6.9" text-anchor="middle">−0.2</text>
<line x1="418.62" y1="350.4" x2="418.62" y2="348.6" stroke="#000" stroke-width="1.4" stroke-linecap="round"/>
<line x1="418.62" y1="193.4" x2="418.62" y2="195.2" stroke="#000" stroke-width="1.4" stroke-linecap="round"/>
<text transform="rotate(0.004)" x="418.62" y="358.8" font-size="6.9" text-anchor="middle">0</text>
<line x1="449.4" y1="350.4" x2="449.4" y2="348.6" stroke="#000" stroke-width="1.4" stroke-linecap="round"/>
<line x1="449.4" y1="193.4" x2="449.4" y2="195.2" stroke="#000" stroke-width="1.4" stroke-linecap="round"/>
<text transform="rotate(0.004)" x="449.4" y="358.8" font-size="6.9" text-anchor="middle">0.2</text>
<line x1="249.3" y1="350.4" x2="251.1" y2="350.4" stroke="#000" stroke-width="1.4" stroke-linecap="round"/>
<line x1="449.4" y1="350.4" x2="447.6" y2="350.4" stroke="#000" stroke-width="1.4" stroke-linecap="round"/>
<text transform="rotate(0.004)" x="248.1" y="352.7" font-size="6.9" text-anchor="end">0</text>
<line x1="249.3" y1="324.23" x2="251.1" y2="324.23" stroke="#000" stroke-width="1.4" stroke-linecap="round"/>
<line x1="449.4" y1="324.23" x2="447.6" y2="324.23" stroke="#000" stroke-width="1.4" stroke-linecap="round"/>
<text transform="rotate(0.004)" x="248.1" y="326.53" font-size="6.9" text-anchor="end">1</text>
<line x1="249.3" y1="298.07" x2="251.1" y2="298.07" stroke="#000" stroke-width="1.4" stroke-linecap="round"/>
<line x1="449.4" y1="298.07" x2="447.6" y2="298.07" stroke="#000" stroke-width="1.4" stroke-linecap="round"/>
<text transform="rotate(0.004)" x="248.1" y="300.37" font-size="6.9" text-anchor="end">2</text>
<line x1="249.3" y1="271.9" x2="251.1" y2="271.9" stroke="#000" stroke-width="1.4" stroke-linecap="round"/>
<line x1="449.4" y1="271.9" x2="447.6" y2="271.9" stroke="#000" stroke-width="1.4" stroke-linecap="round"/>
<text transform="rotate(0.004)" x="248.1" y="274.2" font-size="6.9" text-anchor="end">3</text>
<line x1="249.3" y1="245.73" x2="251.1" y2="245.73" stroke="#000" stroke-width="1.4" stroke-linecap="round"/>
<line x1="449.4" y1="245.73" x2="447.6" y2="245.73" stroke="#000" stroke-width="1.4" stroke-linecap="round"/>
<text transform="rotate(0.004)" x="248.1" y="248.03" font-size="6.9" text-anchor="end">4</text>
<line x1="249.3" y1="219.57" x2="251.1" y2="219.57" stroke="#000" stroke-width="1.4" stroke-linecap="round"/>
<line x1="449.4" y1="219.57" x2="447.6" y2="219.57" stroke="#000" stroke-width="1.4" stroke-linecap="round"/>
<text transform="rotate(0.004)" x="248.1" y="221.87" font-size="6.9" text-anchor="end">5</text>
<line x1="249.3" y1="193.4" x2="251.1" y2="193.4" stroke="#000" stroke-width="1.4" stroke-linecap="round"/>
<line x1="449.4" y1="193.4" x2="447.6" y2="193.4" stroke="#000" stroke-width="1.4" stroke-linecap="round"/>
<text transform="rotate(0.004)" x="248.1" y="195.7" font-size="6.9" text-anchor="end">6</text>
<rect x="249.3" y="193.4" width="200.1" height="157" fill="none" stroke="#000" stroke-width="2.4" stroke-linejoin="round"/>
<circle cx="261.9" cy="290.4" r="2.0" fill="#2050dc"/>
<circle cx="267.5" cy="290.4" r="2.0" fill="#2050dc"/>
<circle cx="283.4" cy="290.4" r="2.0" fill="#2050dc"/>
<circle cx="285.6" cy="290.4" r="2.0" fill="#2050dc"/>
<circle cx="277.2" cy="276.8" r="2.3" fill="#fff" stroke="#2050dc" stroke-width="2.2"/>
<circle cx="392.6" cy="290.4" r="2.0" fill="#e01e2c"/>
<circle cx="394.6" cy="290.4" r="2.0" fill="#e01e2c"/>
<rect x="430.9" y="275.3" width="4.0" height="4.0" fill="#f07078" stroke="#e01e2c" stroke-width="2"/>
<path d="M436.4,273.6L439.4,277.3L436.4,281.0L433.4,277.3Z" fill="#f07078" stroke="#e01e2c" stroke-width="2" stroke-linejoin="miter"/>
<rect x="404.4" y="195.2" width="43.3" height="70.1" fill="#fff" stroke="#000" stroke-width="2.4"/>
<line x1="407.2" y1="200.6" x2="418.9" y2="200.6" stroke="#c462ee" stroke-width="2.3"/>
<line x1="407.2" y1="210.1" x2="413.5" y2="210.1" stroke="#c462ee" stroke-width="2.3"/>
<text transform="rotate(0.004)" x="420" y="203" font-size="7">mean <tspan font-size="6.2">μ</tspan></text>
<text transform="rotate(0.004)" x="420" y="212.6" font-size="7"><tspan font-size="6.2">μ±</tspan> 2<tspan font-size="6.4">σ</tspan></text>
<circle cx="412.7" cy="220.6" r="2.0" fill="#2050dc"/>
<text transform="rotate(0.004)" x="420" y="220.0" font-size="7">k<tspan font-size="5.3" dy="3.8">fast</tspan></text>
<circle cx="412.7" cy="232.6" r="2.0" fill="#e01e2c"/>
<text transform="rotate(0.004)" x="420" y="231.7" font-size="7">k<tspan font-size="5.3" dy="3.8">slow</tspan></text>
<circle cx="412.8" cy="243.1" r="2.3" fill="#fff" stroke="#2050dc" stroke-width="2.2"/>
<text transform="rotate(0.004)" x="420" y="245.6" font-size="7">L144</text>
<path d="M412.8,248.7L415.2,251.9L412.8,255.1L410.4,251.9Z" fill="#f07078" stroke="#e01e2c" stroke-width="1.8" stroke-linejoin="miter"/>
<text transform="rotate(0.004)" x="420" y="254.6" font-size="7">Q144</text>
<rect x="410.9" y="259.0" width="3.8" height="3.8" fill="#f07078" stroke="#e01e2c" stroke-width="2"/>
<text transform="rotate(0.004)" x="420" y="263.4" font-size="7">Y144</text>
<text transform="rotate(0.004)" x="338.0" y="364.9" font-size="7.2">log<tspan font-size="5.2" dy="2.4">10</tspan><tspan dy="-2.4">(k)</tspan></text>
<text transform="translate(240.8,271.9) rotate(-89.99)" font-size="7.0" text-anchor="middle">frequency in best fit parameter set</text>
<text transform="rotate(0.004)" x="229.2" y="202.3" font-size="13.9" font-weight="bold">E</text>
<rect x="483.96" y="207.77" width="9.92" height="141.03" fill="#0a18d0" stroke="#000" stroke-width="1.8"/>
<rect x="493.88" y="301.79" width="9.92" height="47.01" fill="#0a18d0" stroke="#000" stroke-width="1.8"/>
<rect x="503.79" y="322.68" width="9.92" height="26.12" fill="#0a18d0" stroke="#000" stroke-width="1.8"/>
<rect x="513.71" y="338.35" width="9.92" height="10.45" fill="#0a18d0" stroke="#000" stroke-width="1.8"/>
<rect x="523.63" y="343.58" width="9.92" height="5.22" fill="#0a18d0" stroke="#000" stroke-width="1.8"/>
<rect x="533.55" y="343.58" width="9.92" height="5.22" fill="#0a18d0" stroke="#000" stroke-width="1.8"/>
<rect x="553.38" y="343.58" width="9.92" height="5.22" fill="#0a18d0" stroke="#000" stroke-width="1.8"/>
<rect x="583.13" y="343.58" width="9.92" height="5.22" fill="#0a18d0" stroke="#000" stroke-width="1.8"/>
<rect x="642.64" y="343.58" width="9.92" height="5.22" fill="#0a18d0" stroke="#000" stroke-width="1.8"/>
<rect x="652.56" y="343.58" width="9.92" height="5.22" fill="#0a18d0" stroke="#000" stroke-width="1.8"/>
<line x1="488.92" y1="348.8" x2="488.92" y2="347" stroke="#000" stroke-width="1.4" stroke-linecap="round"/>
<line x1="488.92" y1="192.1" x2="488.92" y2="193.9" stroke="#000" stroke-width="1.4" stroke-linecap="round"/>
<text transform="rotate(0.004)" x="488.92" y="357" font-size="6.9" text-anchor="middle">1</text>
<line x1="508.75" y1="348.8" x2="508.75" y2="347" stroke="#000" stroke-width="1.4" stroke-linecap="round"/>
<line x1="508.75" y1="192.1" x2="508.75" y2="193.9" stroke="#000" stroke-width="1.4" stroke-linecap="round"/>
<text transform="rotate(0.004)" x="508.75" y="357" font-size="6.9" text-anchor="middle">3</text>
<line x1="528.59" y1="348.8" x2="528.59" y2="347" stroke="#000" stroke-width="1.4" stroke-linecap="round"/>
<line x1="528.59" y1="192.1" x2="528.59" y2="193.9" stroke="#000" stroke-width="1.4" stroke-linecap="round"/>
<text transform="rotate(0.004)" x="528.59" y="357" font-size="6.9" text-anchor="middle">5</text>
<line x1="548.42" y1="348.8" x2="548.42" y2="347" stroke="#000" stroke-width="1.4" stroke-linecap="round"/>
<line x1="548.42" y1="192.1" x2="548.42" y2="193.9" stroke="#000" stroke-width="1.4" stroke-linecap="round"/>
<text transform="rotate(0.004)" x="548.42" y="357" font-size="6.9" text-anchor="middle">7</text>
<line x1="568.26" y1="348.8" x2="568.26" y2="347" stroke="#000" stroke-width="1.4" stroke-linecap="round"/>
<line x1="568.26" y1="192.1" x2="568.26" y2="193.9" stroke="#000" stroke-width="1.4" stroke-linecap="round"/>
<text transform="rotate(0.004)" x="568.26" y="357" font-size="6.9" text-anchor="middle">9</text>
<line x1="588.09" y1="348.8" x2="588.09" y2="347" stroke="#000" stroke-width="1.4" stroke-linecap="round"/>
<line x1="588.09" y1="192.1" x2="588.09" y2="193.9" stroke="#000" stroke-width="1.4" stroke-linecap="round"/>
<text transform="rotate(0.004)" x="588.09" y="357" font-size="6.9" text-anchor="middle">11</text>
<line x1="607.93" y1="348.8" x2="607.93" y2="347" stroke="#000" stroke-width="1.4" stroke-linecap="round"/>
<line x1="607.93" y1="192.1" x2="607.93" y2="193.9" stroke="#000" stroke-width="1.4" stroke-linecap="round"/>
<text transform="rotate(0.004)" x="607.93" y="357" font-size="6.9" text-anchor="middle">13</text>
<line x1="627.76" y1="348.8" x2="627.76" y2="347" stroke="#000" stroke-width="1.4" stroke-linecap="round"/>
<line x1="627.76" y1="192.1" x2="627.76" y2="193.9" stroke="#000" stroke-width="1.4" stroke-linecap="round"/>
<text transform="rotate(0.004)" x="627.76" y="357" font-size="6.9" text-anchor="middle">15</text>
<line x1="647.6" y1="348.8" x2="647.6" y2="347" stroke="#000" stroke-width="1.4" stroke-linecap="round"/>
<line x1="647.6" y1="192.1" x2="647.6" y2="193.9" stroke="#000" stroke-width="1.4" stroke-linecap="round"/>
<text transform="rotate(0.004)" x="647.6" y="357" font-size="6.9" text-anchor="middle">17</text>
<line x1="667.43" y1="348.8" x2="667.43" y2="347" stroke="#000" stroke-width="1.4" stroke-linecap="round"/>
<line x1="667.43" y1="192.1" x2="667.43" y2="193.9" stroke="#000" stroke-width="1.4" stroke-linecap="round"/>
<text transform="rotate(0.004)" x="667.43" y="357" font-size="6.9" text-anchor="middle">19</text>
<line x1="479" y1="348.8" x2="480.8" y2="348.8" stroke="#000" stroke-width="1.4" stroke-linecap="round"/>
<line x1="677.35" y1="348.8" x2="675.55" y2="348.8" stroke="#000" stroke-width="1.4" stroke-linecap="round"/>
<text transform="rotate(0.004)" x="477.8" y="351.1" font-size="6.9" text-anchor="end">0</text>
<line x1="479" y1="322.68" x2="480.8" y2="322.68" stroke="#000" stroke-width="1.4" stroke-linecap="round"/>
<line x1="677.35" y1="322.68" x2="675.55" y2="322.68" stroke="#000" stroke-width="1.4" stroke-linecap="round"/>
<text transform="rotate(0.004)" x="477.8" y="324.98" font-size="6.9" text-anchor="end">5</text>
<line x1="479" y1="296.57" x2="480.8" y2="296.57" stroke="#000" stroke-width="1.4" stroke-linecap="round"/>
<line x1="677.35" y1="296.57" x2="675.55" y2="296.57" stroke="#000" stroke-width="1.4" stroke-linecap="round"/>
<text transform="rotate(0.004)" x="477.8" y="298.87" font-size="6.9" text-anchor="end">10</text>
<line x1="479" y1="270.45" x2="480.8" y2="270.45" stroke="#000" stroke-width="1.4" stroke-linecap="round"/>
<line x1="677.35" y1="270.45" x2="675.55" y2="270.45" stroke="#000" stroke-width="1.4" stroke-linecap="round"/>
<text transform="rotate(0.004)" x="477.8" y="272.75" font-size="6.9" text-anchor="end">15</text>
<line x1="479" y1="244.33" x2="480.8" y2="244.33" stroke="#000" stroke-width="1.4" stroke-linecap="round"/>
<line x1="677.35" y1="244.33" x2="675.55" y2="244.33" stroke="#000" stroke-width="1.4" stroke-linecap="round"/>
<text transform="rotate(0.004)" x="477.8" y="246.63" font-size="6.9" text-anchor="end">20</text>
<line x1="479" y1="218.22" x2="480.8" y2="218.22" stroke="#000" stroke-width="1.4" stroke-linecap="round"/>
<line x1="677.35" y1="218.22" x2="675.55" y2="218.22" stroke="#000" stroke-width="1.4" stroke-linecap="round"/>
<text transform="rotate(0.004)" x="477.8" y="220.52" font-size="6.9" text-anchor="end">25</text>
<line x1="479" y1="192.1" x2="480.8" y2="192.1" stroke="#000" stroke-width="1.4" stroke-linecap="round"/>
<line x1="677.35" y1="192.1" x2="675.55" y2="192.1" stroke="#000" stroke-width="1.4" stroke-linecap="round"/>
<text transform="rotate(0.004)" x="477.8" y="194.4" font-size="6.9" text-anchor="end">30</text>
<rect x="479" y="192.1" width="198.35" height="156.7" fill="none" stroke="#000" stroke-width="2.4" stroke-linejoin="round"/>
<text transform="rotate(0.004)" x="578.17" y="363.2" font-size="7.0" text-anchor="middle">n</text>
<text transform="translate(465.9,270.45) rotate(-89.99)" font-size="7.0" text-anchor="middle">frequency in best fit parameter set</text>
<text transform="rotate(0.004)" x="457.2" y="202.3" font-size="13.9" font-weight="bold">F</text>
</g>
</svg>
</body></html>
